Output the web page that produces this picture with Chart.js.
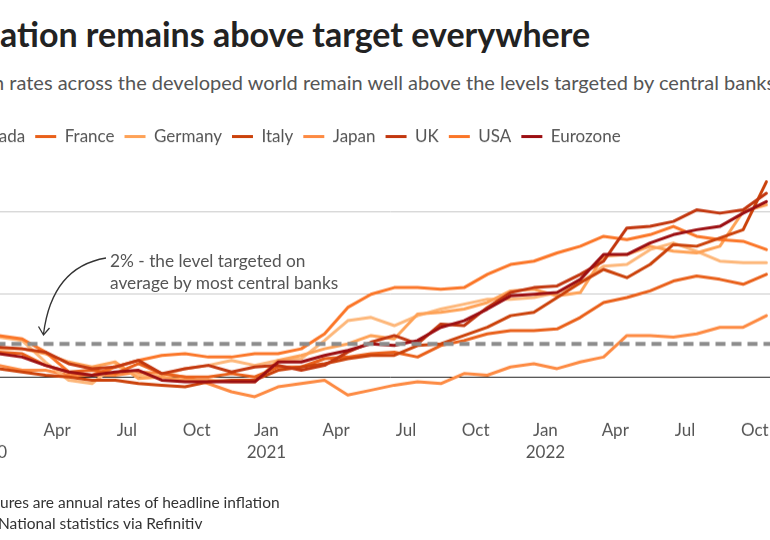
<!DOCTYPE html>
<html><head><meta charset="utf-8">
<script src="https://cdn.jsdelivr.net/npm/chart.js@4.4.0/dist/chart.umd.min.js"></script>
<style>
html,body{margin:0;padding:0;background:#fff;}
body{width:770px;height:540px;overflow:hidden;position:relative;font-family:Lato,"Noto Sans",sans-serif;}
.t{position:absolute;white-space:nowrap;left:0;}
#title{top:13px;font-size:34px;font-weight:700;color:#222;line-height:42px;}
#sub{top:70px;font-size:20px;color:#555;line-height:24px;}
#note{top:492px;font-size:15.5px;color:#333;line-height:21px;}
#src{top:513px;font-size:15.5px;color:#333;line-height:21px;}
#ann{left:110px;top:250px;font-size:17.3px;color:#555;line-height:22px;}
#wrap{position:absolute;left:-70px;top:118px;width:920px;height:352.5px;}
#arrow{position:absolute;left:0;top:0;pointer-events:none;}
</style></head>
<body>
<div class="t" id="title" data-vis="0"><span class="pre">Infl</span>ation remains above target everywhere</div>
<div class="t" id="sub" data-vis="-7"><span class="pre">Inflatio</span>n rates across the developed world remain well above the levels targeted by central banks</div>
<div id="wrap"><canvas id="c"></canvas></div>
<div class="t" id="ann">2% - the level targeted on<br>average by most central banks</div>
<svg id="arrow" width="770" height="540"><path d="M106,258 Q52,267 43.5,334" fill="none" stroke="#333" stroke-width="1.3"/><path d="M38.5,326.5 L43.5,335 L49.5,328" fill="none" stroke="#333" stroke-width="1.3"/></svg>
<div class="t" id="note" data-vis="0"><span class="pre">Note: Fig</span>ures are annual rates of headline inflation</div>
<div class="t" id="src" data-vis="-2"><span class="pre">Source: </span>National statistics via Refinitiv</div>
<script>
// ---- data (annual % change in consumer prices, monthly) ----
const months = ["2020-01","2020-02","2020-03","2020-04","2020-05","2020-06","2020-07","2020-08","2020-09","2020-10","2020-11","2020-12",
"2021-01","2021-02","2021-03","2021-04","2021-05","2021-06","2021-07","2021-08","2021-09","2021-10","2021-11","2021-12",
"2022-01","2022-02","2022-03","2022-04","2022-05","2022-06","2022-07","2022-08","2022-09","2022-10"];
const canada   = [2.4,2.2,0.9,-0.2,-0.4,0.7,0.1,0.1,0.5,0.7,1.0,0.7, 1.0,1.1,2.2,3.4,3.6,3.1,3.7,4.1,4.4,4.7,4.7,4.8, 5.1,5.7,6.7,6.8,7.7,8.1,7.6,7.0,6.9,6.9];
const france   = [1.5,1.4,0.7,0.3,0.4,0.2,0.8,0.2,0.0,0.0,0.2,0.0, 0.6,0.6,1.1,1.2,1.4,1.5,1.2,1.9,2.2,2.6,2.8,2.8, 2.9,3.6,4.5,4.8,5.2,5.8,6.1,5.9,5.6,6.2];
const germany  = [1.7,1.7,1.4,0.9,0.6,0.9,-0.1,0.0,-0.2,-0.2,-0.3,-0.3, 1.0,1.3,1.7,2.0,2.5,2.3,3.8,3.9,4.1,4.5,5.2,5.3, 4.9,5.1,7.3,7.4,7.9,7.6,7.5,7.9,10.0,10.4];
const italy    = [0.5,0.3,0.1,0.0,-0.2,-0.2,-0.4,-0.5,-0.6,-0.3,-0.2,-0.2, 0.4,0.6,0.8,1.1,1.3,1.3,1.9,2.0,2.5,3.0,3.7,3.9, 4.8,5.7,6.5,6.0,6.8,8.0,7.9,8.4,8.9,11.8];
const japan    = [0.7,0.4,0.4,0.1,0.1,0.1,0.3,0.2,0.0,-0.4,-0.9,-1.2, -0.6,-0.4,-0.2,-1.1,-0.8,-0.5,-0.3,-0.4,0.2,0.1,0.6,0.8, 0.5,0.9,1.2,2.5,2.5,2.4,2.6,3.0,3.0,3.7];
const uk       = [1.8,1.7,1.5,0.8,0.5,0.6,1.0,0.2,0.5,0.7,0.3,0.6, 0.7,0.4,0.7,1.5,2.1,2.5,2.0,3.2,3.1,4.2,5.1,5.4, 5.5,6.2,7.0,9.0,9.1,9.4,10.1,9.9,10.1,11.1];
const usa      = [2.5,2.3,1.5,0.3,0.1,0.6,1.0,1.3,1.4,1.2,1.2,1.4, 1.4,1.7,2.6,4.2,5.0,5.4,5.4,5.3,5.4,6.2,6.8,7.0, 7.5,7.9,8.5,8.3,8.6,9.1,8.5,8.3,8.2,7.7];
const eurozone = [1.4,1.2,0.7,0.3,0.1,0.3,0.4,-0.2,-0.3,-0.3,-0.3,-0.3, 0.9,0.9,1.3,1.6,2.0,1.9,2.2,3.0,3.4,4.1,4.9,5.0, 5.1,5.9,7.4,7.4,8.1,8.6,8.9,9.1,9.9,10.6];
const seriesNames = ["Canada","France","Germany","Italy","Japan","UK","USA","Eurozone"];
const seriesValues = [canada,france,germany,italy,japan,uk,usa,eurozone];
const tickMonths = ["2020-01","2020-04","2020-07","2020-10","2021-01","2021-04","2021-07","2021-10","2022-01","2022-04","2022-07","2022-10"];
const tickLabels = [["Jan","2020"],"Apr","Jul","Oct",["Jan","2021"],"Apr","Jul","Oct",["Jan","2022"],"Apr","Jul","Oct"];
const yTicks = [0,5,10];
const targetRate = 2;

// ---- styles ----
const colors = ["#fdb77a","#e9601a","#fea257","#cb420b","#fd8a42","#c2370f","#fb7628","#9c0f12"];
const drawOrder = [6,3,5,2,7,1,4,0];

// position text lines so the visible part starts where the (cropped) original does
function placeTexts(){
  document.querySelectorAll('.t[data-vis]').forEach(el=>{
    el.style.left = '0px';
    const pre = el.querySelector('.pre');
    const w = pre.getBoundingClientRect().right - el.getBoundingClientRect().left;
    el.style.left = (parseFloat(el.dataset.vis) - w) + 'px';
  });
}
placeTexts();
if (document.fonts && document.fonts.ready) document.fonts.ready.then(placeTexts);

const monthIndex = m => { const [y,mo] = m.split('-').map(Number); return (y-2020)*12 + (mo-1); };
const tickVals = tickMonths.map(monthIndex);

const datasets = seriesNames.map((n,i)=>({
  label:n,
  data: months.map((m,j)=>({x: monthIndex(m)+0.5, y: seriesValues[i][j]})),
  borderColor: colors[i], backgroundColor: colors[i],
  borderWidth: 3, pointRadius: 0, tension: 0, order: drawOrder[i],
  borderJoinStyle:'round', borderCapStyle:'round'
}));

const targetLine = {
  id:'targetLine',
  afterDatasetsDraw(chart){
    const {ctx, chartArea:a, scales:{y}} = chart;
    const py = y.getPixelForValue(targetRate);
    ctx.save(); ctx.strokeStyle='#8c8c8c'; ctx.lineWidth=4; ctx.setLineDash([10,6]);
    ctx.beginPath(); ctx.moveTo(a.left,py); ctx.lineTo(a.right,py); ctx.stroke(); ctx.restore();
  }
};

new Chart(document.getElementById('c'), {
  type:'line',
  data:{datasets},
  plugins:[targetLine],
  options:{
    responsive:true, maintainAspectRatio:false, animation:false, devicePixelRatio:1,
    layout:{padding:0},
    plugins:{
      tooltip:{enabled:false},
      legend:{
        position:'top', align:'start',
        labels:{
          boxWidth:21, boxHeight:3, padding:10, color:'#555',
          font:{family:'Lato', size:17},
          sort:(a,b)=>a.datasetIndex-b.datasetIndex,
          generateLabels:(chart)=>Chart.defaults.plugins.legend.labels.generateLabels(chart).map(l=>Object.assign(l,{lineWidth:0, fillStyle:l.strokeStyle}))
        }
      }
    },
    scales:{
      x:{
        type:'linear', min:-2.4, max:37.03,
        grid:{display:false, drawTicks:false}, border:{display:false},
        afterBuildTicks:(ax)=>{ ax.ticks = tickVals.map(v=>({value:v})); },
        ticks:{
          autoSkip:false, maxRotation:0, padding:8, color:'#555',
          font:{family:'Lato', size:17, lineHeight:1.3},
          callback:(v)=>{ const k = tickVals.indexOf(v); return k>=0 ? tickLabels[k] : ''; }
        }
      },
      y:{
        min:-2.07, max:13.41,
        afterBuildTicks:(ax)=>{ ax.ticks = yTicks.map(v=>({value:v})); },
        ticks:{display:false},
        border:{display:false},
        grid:{drawTicks:false, lineWidth:1, color:(c)=> c.tick && c.tick.value===0 ? '#222' : '#c8c8c8'}
      }
    }
  }
});
</script>
</body></html>
